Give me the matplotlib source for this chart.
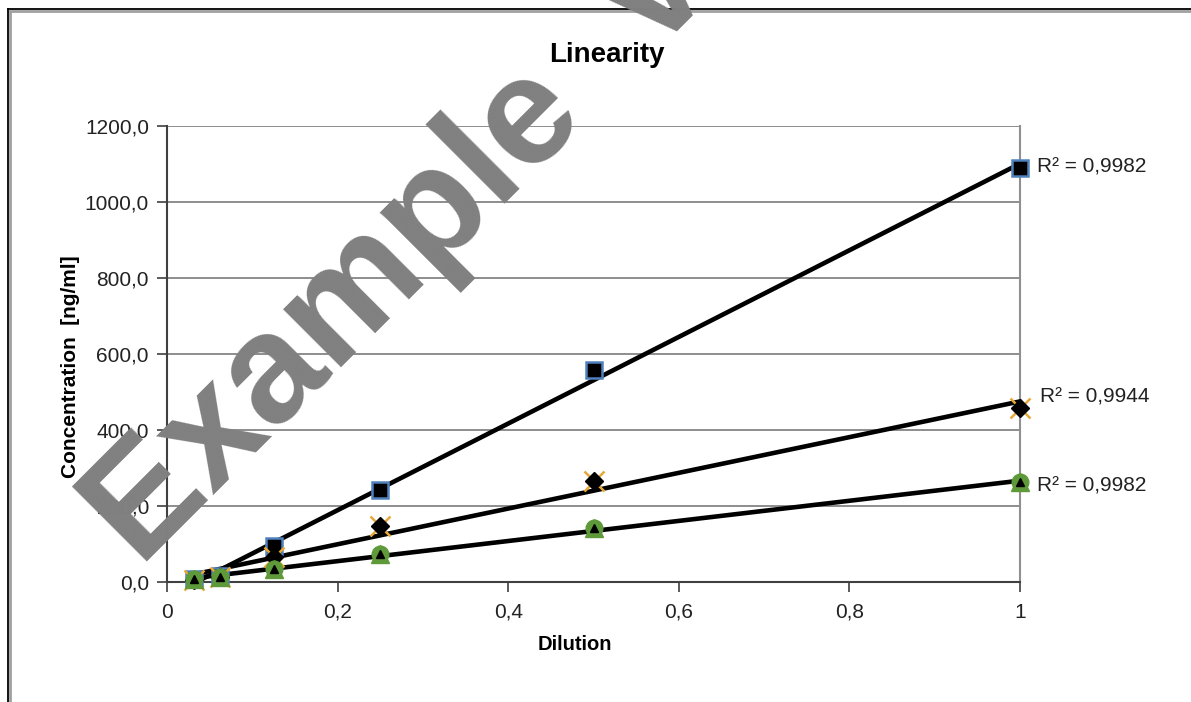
import numpy as np
import matplotlib
matplotlib.use("Agg")
import matplotlib.pyplot as plt
from matplotlib.lines import Line2D

plt.rcParams['font.family'] = ['Liberation Sans', 'DejaVu Sans']

dilution = [0.03125, 0.0625, 0.125, 0.25, 0.5, 1.0]
series_a = [8, 17, 95, 242, 558, 1090]
series_b = [6, 14, 66, 148, 265, 458]
series_c = [8, 14, 33, 74, 142, 262]
r2_labels = ["R² = 0,9982", "R² = 0,9944", "R² = 0,9982"]
y_ticks = [0, 200, 400, 600, 800, 1000, 1200]
y_tick_labels = ["0,0", "200,0", "400,0", "600,0", "800,0", "1000,0", "1200,0"]
x_ticks = [0, 0.2, 0.4, 0.6, 0.8, 1.0]
x_tick_labels = ["0", "0,2", "0,4", "0,6", "0,8", "1"]

W, H = 1191, 702
fig = plt.figure(figsize=(W / 100, H / 100), dpi=100)
fig.patch.set_facecolor('white')

def fx(px):
    return px / W

def fy(py):
    return 1 - py / H

# outer chart frame with shadow
fig.add_artist(Line2D([fx(10), fx(10)], [fy(12), fy(H + 5)], color='#a0a0a0', lw=2, transform=fig.transFigure))
fig.add_artist(Line2D([fx(10), fx(W + 5)], [fy(11), fy(11)], color='#a0a0a0', lw=2, transform=fig.transFigure))
fig.add_artist(Line2D([fx(8), fx(8)], [fy(9), fy(H + 5)], color='black', lw=1.3, transform=fig.transFigure))
fig.add_artist(Line2D([fx(8), fx(W + 5)], [fy(9), fy(9)], color='black', lw=1.3, transform=fig.transFigure))

ax = fig.add_axes([fx(167), fy(582), fx(1020) - fx(167), fy(126) - fy(582)])
ax.set_xlim(0, 1)
ax.set_ylim(0, 1200)

ax.set_yticks(y_ticks)
ax.set_yticklabels(y_tick_labels, fontsize=15, color='#222222')
ax.set_xticks(x_ticks)
ax.set_xticklabels(x_tick_labels, fontsize=15, color='#222222')
ax.tick_params(axis='y', direction='out', length=7, width=1.2, color='#404040', pad=6)
ax.tick_params(axis='x', direction='out', length=7, width=1.2, color='#404040', pad=8)

ax.yaxis.grid(True, color='#7a7a7a', lw=1.2)
ax.set_axisbelow(True)
ax.spines['top'].set_visible(False)
ax.spines['right'].set_color('#909090')
ax.spines['right'].set_linewidth(1.5)
ax.spines['left'].set_color('#404040')
ax.spines['left'].set_linewidth(1.5)
ax.spines['bottom'].set_color('#404040')
ax.spines['bottom'].set_linewidth(1.5)

xs = np.array(dilution)
blue = '#4F81BD'
orange = '#E8A838'
green = '#5E9A3A'

# trend lines
for ys in (series_a, series_b, series_c):
    k, b = np.polyfit(xs, np.array(ys), 1)
    ax.plot([xs[0], xs[-1]], [k * xs[0] + b, k * xs[-1] + b], color='black', lw=3.3, zorder=3,
            solid_capstyle='round', clip_on=False)

# markers
ax.plot(xs, series_a, linestyle='none', marker='s', markersize=12, markerfacecolor='black',
        markeredgecolor=blue, markeredgewidth=1.8, zorder=4, clip_on=False)
ax.plot(xs, series_b, linestyle='none', marker='x', markersize=15, markeredgecolor=orange,
        markeredgewidth=1.8, zorder=5, clip_on=False)
ax.plot(xs, series_b, linestyle='none', marker='D', markersize=9.5, markerfacecolor='black',
        markeredgecolor='black', zorder=6, clip_on=False)
ax.plot(xs, series_c, linestyle='none', marker='^', markersize=13, markerfacecolor=green,
        markeredgecolor=green, zorder=7, clip_on=False)
ax.plot(xs, series_c, linestyle='none', marker='o', markersize=12, markerfacecolor=green,
        markeredgecolor=green, zorder=7, clip_on=False)
ax.plot(xs, series_c, linestyle='none', marker='^', markersize=6, markerfacecolor='black',
        markeredgecolor='black', zorder=8, clip_on=False)

# R² labels
fig.text(fx(1037), fy(167), r2_labels[0], fontsize=15, color='#222222', ha='left', va='center')
fig.text(fx(1040), fy(397), r2_labels[1], fontsize=15, color='#222222', ha='left', va='center')
fig.text(fx(1037), fy(486), r2_labels[2], fontsize=15, color='#222222', ha='left', va='center')

# titles
fig.text(fx(607), fy(55), "Linearity", fontsize=20, fontweight='bold', ha='center', va='center', color='black')
fig.text(fx(575), fy(645), "Dilution", fontsize=14.5, fontweight='bold', ha='center', va='center', color='black')
fig.text(fx(70), fy(367), "Concentration  [ng/ml]", fontsize=15, fontweight='bold', ha='center', va='center',
         rotation=90, color='black')

# watermark
fig.text(fx(140), fy(568), "Example  Version", fontsize=111, fontweight='bold', color='#808080',
         rotation=45, rotation_mode='anchor', ha='left', va='baseline', zorder=20)

fig.savefig("out.png", dpi=100, facecolor='white')
